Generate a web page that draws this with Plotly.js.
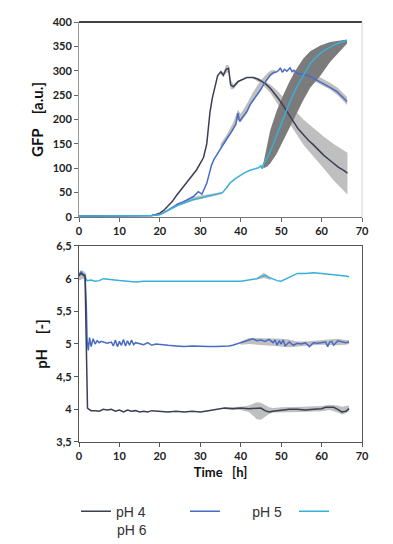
<!DOCTYPE html>
<html><head><meta charset="utf-8">
<script src="https://cdn.plot.ly/plotly-3.0.1.min.js"></script>
<style>html,body{margin:0;padding:0;background:#fff}#chart{width:393px;height:544px}</style>
</head><body><div id="chart"></div>
<script>
// ---------- GFP (top panel) ----------
const gfpTimePH4 = [0,5,10,15,18,19,20,21,22,23,24.2,25.5,26.7,28,29.1,30,30.8,31.6,32.4,33,33.7,34.3,35.1,35.7,36.4,37,37.5,38.2,39.4,40.5,41.5,43.1,44.2,45.2,46.3,47.3,48.3,49.3,50.4,51.4,53,54.2,55.5,56.8,58,59.2,60.5,61.8,63,64.2,65.4,66.4];
const gfpPH4 = [2,2,2,2,3,5,8,14,22,31,45,58,72,85,97,110,122,150,215,245,270,290,298,291,303,305,271,267,278,283,286,286,283,278,272,264,254,243,230,216,196,181,168,157,148,137,127,118,110,102,96,90];

const gfpTimePH5 = [0,5,10,15,18,19,20,21,22,23.3,24.5,25.8,27,28.3,29.5,30.4,31,31.6,32.2,32.8,33.5,34.5,35.5,36.6,37.5,38.2,38.8,39.3,39.7,40.5,41.5,42.3,43,44,45,45.6,46.5,47.3,48.1,48.9,49.4,49.8,50.3,50.8,51.4,51.8,52.2,52.7,53.2,53.9,55,56.4,57.5,58.8,60,61.3,62.5,63.8,65,66.3];
const gfpPH5 = [2,2,2,2,3,4,5,9,14,21,27,31,37,42,52,47,58,69,88,107,120,134,148,161,172,182,190,213,196,205,216,230,238,250,262,271,281,291,296,298,301,306,297,303,299,302,306,298,301,295,293,291,287,281,276,271,264,257,248,237];

const gfpTimePH6 = [0,5,10,15,18,19,20,21,22,23.3,24.5,25.8,27,28.3,30,31.6,33,34.7,35.5,36.5,37.4,38.6,39.9,41,42.3,43.4,44.4,45,45.3,45.6,46.5,47.3,48.1,48.9,49.8,50.6,51.4,52.2,53,53.9,54.7,55.5,56.4,57.2,58.4,59.7,60.9,62.1,63.4,64.6,66.3];
const gfpPH6 = [2,2,2,2,3,4,5,9,14,19,24,28,32,36,39,42,44,47,50,60,70,78,86,91,96,99,101,105,99,108,120,134,150,168,185,202,220,237,252,267,279,291,303,315,326,336,343,349,354,358,362];

// deviation bands (GFP)
const bandGfp4aTime = [35,35.7,36.4,37,37.5,38.2,39.4];
const bandGfp4aUp   = [300,296,312,312,282,272,281];
const bandGfp4aLo   = [294,286,296,296,262,262,275];
const bandGfp4Time = [43,45.2,47.3,49.3,51.4,53,55.5,58,60.5,63,65.4,66.4];
const bandGfp4Up   = [288,282,272,257,238,222,200,182,165,150,138,132];
const bandGfp4Lo   = [284,273,255,230,200,180,148,125,100,75,55,46];
const bandGfp5aTime = [35,36.6,38.2,39.3,40,41.5,43,44.5,46,47.3,48.5];
const bandGfp5aUp   = [150,170,195,220,212,232,255,275,290,300,302];
const bandGfp5aLo   = [140,158,178,200,195,212,238,258,276,288,296];
const bandGfp5bTime = [53,56,59,62,64,66.3];
const bandGfp5bUp   = [300,297,289,276,265,246];
const bandGfp5bLo   = [292,286,275,262,250,230];
const bandGfp6aTime = [24,26,28,30,32,34,35.5];
const bandGfp6aUp   = [27,34,40,44,46,49,52];
const bandGfp6aLo   = [22,27,33,37,40,44,47];
const bandGfp6Time = [45.6,46.5,47.3,48.9,50.6,52.2,53.9,55.5,57.2,59.7,62.1,64.6,66.3];
const bandGfp6Up   = [110,150,178,218,252,280,305,325,340,352,359,362,364];
const bandGfp6Lo   = [100,103,110,130,158,185,213,240,265,290,318,340,356];

// ---------- pH (bottom panel) ----------
const phTimePH4 = [0,0.5,1,1.5,1.8,2.1,2.5,3,4,5,6,7,8,9,10,11,12,13,14,15,16,17,18,20,22,24,26,28,30,32,34,36,38,40,42,44,45,46,47,48,50,52,54,56,58,60,61,62,63,64,65,66,66.8];
const phPH4 = [6.05,6.08,6.06,6.04,5.0,4.02,4.0,3.98,3.98,3.97,4.0,3.99,4.0,3.97,3.99,3.96,3.99,3.97,3.98,3.96,3.97,3.96,3.98,3.97,3.96,3.97,3.96,3.97,3.96,3.98,4.0,4.02,4.01,4.02,4.01,4.02,4.02,3.98,3.96,3.97,3.99,4.0,4.0,3.99,4.0,4.01,4.03,4.03,4.03,4.0,3.96,3.97,4.01];

const phTimePH5 = [0,0.5,1,1.5,1.8,2.0,2.3,2.6,3,3.5,4,4.5,5,5.5,6,7,8,8.5,9,9.5,10,10.5,11,11.5,12,12.5,13,13.5,14,15,16,17,18,19,20,22,24,26,28,30,32,34,36,37,38,39,40,41,42,43,44,45,46,47,48,48.5,49,49.5,50,50.5,51,52,53,54,55,56,57,58,59,60,61,61.5,62,62.5,63,64,65,66,66.8];
const phPH5 = [6.04,6.1,6.07,6.05,5.6,5.06,4.9,5.1,4.96,5.08,5.0,5.05,5.02,5.04,5.03,5.01,5.03,4.97,5.06,4.96,5.04,4.98,5.07,4.97,5.05,4.98,5.06,4.99,5.02,5.01,4.99,5.02,4.98,5.0,4.99,4.98,4.97,4.96,4.97,4.96,4.96,4.96,4.96,4.97,4.98,5.0,5.02,5.04,5.05,5.08,5.05,5.06,5.04,5.07,5.02,5.06,4.98,5.05,5.0,5.06,4.97,5.03,4.98,5.01,5.0,5.02,4.96,5.02,5.01,5.02,5.03,4.96,5.03,5.04,4.98,5.05,5.04,5.02,5.03];

const phTimePH6 = [0,0.5,1,1.5,2,3,4,5,6,8,10,12,14,16,18,20,25,30,35,38,40,42,44,45,46,47,48,49,50,51,52,53,54,56,58,60,62,64,66,66.8];
const phPH6 = [6.06,6.1,6.05,6.02,5.97,5.98,5.96,5.97,6.0,5.98,5.97,5.96,5.95,5.96,5.96,5.95,5.96,5.96,5.96,5.95,5.96,5.98,6.0,6.03,6.05,6.02,5.99,5.97,5.96,5.99,6.02,6.05,6.08,6.08,6.09,6.08,6.07,6.05,6.04,6.03];

const bandPh0Time = [0,0.5,1,1.5,1.8];
const bandPh0Up   = [6.1,6.13,6.12,6.1,6.08];
const bandPh0Lo   = [5.97,5.98,6.0,5.98,5.95];
const bandPh4Time = [36,40,42,43,44,45,46,47,48,50,55,60,62,64,65,66,66.8];
const bandPh4Up   = [4.03,4.04,4.06,4.09,4.11,4.10,4.06,4.03,4.02,4.03,4.04,4.05,4.07,4.06,4.04,4.05,4.06];
const bandPh4Lo   = [4.00,3.99,3.96,3.90,3.85,3.84,3.88,3.93,3.95,3.96,3.96,3.97,3.99,3.95,3.92,3.94,3.97];
const bandPh5Time = [40,42,44,46,48,50,52,54,56,58,60,62,64,66,66.8];
const bandPh5Up   = [5.04,5.09,5.09,5.09,5.09,5.08,5.07,5.04,5.04,5.05,5.06,5.08,5.08,5.06,5.06];
const bandPh5Lo   = [4.99,5.0,5.0,4.99,4.97,4.96,4.95,4.97,4.97,4.98,4.99,4.99,4.98,4.99,5.0];
const bandPh6Time = [44,45,45.7,46.5,47.5];
const bandPh6Up   = [6.01,6.06,6.09,6.06,6.01];
const bandPh6Lo   = [5.99,6.0,6.01,6.0,5.98];

const seriesNames = ['pH 4','pH 5','pH 6'];
const xTicks = [0,10,20,30,40,50,60,70];

// ---------- styling ----------
const C4 = '#3b3f52', C5 = '#4a6bc4', C6 = '#3aafda';
const LIGHT = '#bfbfbf', DARK = '#7b7b7b';

function band(t, up, lo, color, xa, ya) {
  return {
    x: t.concat(t.slice().reverse()),
    y: up.concat(lo.slice().reverse()),
    xaxis: xa, yaxis: ya,
    type: 'scatter', mode: 'lines', fill: 'toself',
    fillcolor: color, line: {width: 0, color: color},
    hoverinfo: 'skip', showlegend: false
  };
}
function line(t, v, color, xa, ya, name, show) {
  return {
    x: t, y: v, xaxis: xa, yaxis: ya, type: 'scatter', mode: 'lines',
    line: {color: color, width: 1.5}, name: name, showlegend: show,
    legendgroup: name
  };
}

const data = [
  band(bandGfp6aTime, bandGfp6aUp, bandGfp6aLo, LIGHT, 'x', 'y'),
  band(bandGfp4aTime, bandGfp4aUp, bandGfp4aLo, LIGHT, 'x', 'y'),
  band(bandGfp4Time, bandGfp4Up, bandGfp4Lo, LIGHT, 'x', 'y'),
  band(bandGfp5aTime, bandGfp5aUp, bandGfp5aLo, LIGHT, 'x', 'y'),
  band(bandGfp5bTime, bandGfp5bUp, bandGfp5bLo, LIGHT, 'x', 'y'),
  band(bandGfp6Time, bandGfp6Up, bandGfp6Lo, DARK, 'x', 'y'),
  line(gfpTimePH4, gfpPH4, C4, 'x', 'y', seriesNames[0], true),
  line(gfpTimePH5, gfpPH5, C5, 'x', 'y', '\u00a0\u00a0\u00a0\u00a0\u00a0\u00a0\u00a0' + seriesNames[1], true),
  line(gfpTimePH6, gfpPH6, C6, 'x', 'y', '\u00a0', true),
  band(bandPh0Time, bandPh0Up, bandPh0Lo, LIGHT, 'x2', 'y2'),
  band(bandPh4Time, bandPh4Up, bandPh4Lo, LIGHT, 'x2', 'y2'),
  band(bandPh5Time, bandPh5Up, bandPh5Lo, LIGHT, 'x2', 'y2'),
  band(bandPh6Time, bandPh6Up, bandPh6Lo, LIGHT, 'x2', 'y2'),
  line(phTimePH6, phPH6, C6, 'x2', 'y2', 'pH6b', false),
  line(phTimePH5, phPH5, C5, 'x2', 'y2', 'pH5b', false),
  line(phTimePH4, phPH4, C4, 'x2', 'y2', 'pH4b', false)
];

const tickFont = {family: 'Lato, "Liberation Sans", sans-serif', size: 11, color: '#222', weight: 'bold'};
const titleFont = {family: 'Lato, "Liberation Sans", sans-serif', size: 14, color: '#111', weight: 'bold'};

const layout = {
  width: 393, height: 544,
  margin: {l: 79, r: 31, t: 22, b: 102},
  paper_bgcolor: '#fff', plot_bgcolor: '#fff',
  separators: ', ',
  showlegend: true,
  xaxis: {domain: [0,1], anchor: 'y', range: [0,70], tickvals: xTicks, ticks: 'outside', ticklen: 4, tickcolor: '#666',
          showline: true, linecolor: '#777', linewidth: 1, showgrid: false, zeroline: false, tickfont: tickFont},
  yaxis: {domain: [0.5357,1], anchor: 'x', range: [0,400], dtick: 50, ticks: 'outside', ticklen: 4, tickcolor: '#666',
          showline: true, linecolor: '#999', linewidth: 1, showgrid: false, zeroline: false, tickfont: tickFont,
          title: {text: 'GFP\u00a0\u00a0\u00a0 [a.u.]', font: {family: titleFont.family, size: 15, color: '#111', weight: 'bold'}, standoff: 5}},
  xaxis2: {domain: [0,1], anchor: 'y2', range: [0,70], tickvals: xTicks, ticks: 'outside', ticklen: 4, tickcolor: '#555',
          showline: true, mirror: true, linecolor: '#555', linewidth: 1.2, showgrid: false, zeroline: false, tickfont: tickFont,
          title: {text: 'Time\u00a0\u00a0 [h]', font: {family: titleFont.family, size: 13, color: '#111', weight: 'bold'}, standoff: 6}},
  yaxis2: {domain: [0,0.4667], anchor: 'x2', range: [3.5,6.5], dtick: 0.5, ticks: 'outside', ticklen: 4, tickcolor: '#555',
          showline: true, mirror: true, linecolor: '#555', linewidth: 1.2, showgrid: false, zeroline: false, tickfont: tickFont,
          title: {text: 'pH\u00a0\u00a0\u00a0 [-]', font: {family: titleFont.family, size: 15, color: '#111', weight: 'bold'}, standoff: 5}},
  shapes: [
    {type: 'line', xref: 'x domain', yref: 'y domain', x0: 0, x1: 1, y0: 1, y1: 1, line: {color: '#404040', width: 2}},
    {type: 'line', xref: 'x domain', yref: 'y domain', x0: 1, x1: 1, y0: 0, y1: 1, line: {color: '#d4d4d4', width: 1}}
  ],
  legend: {orientation: 'h', x: -0.007, xanchor: 'left', y: -0.128, yanchor: 'top',
           indentation: 10, entrywidth: 54, entrywidthmode: 'pixels', traceorder: 'normal',
           font: {family: '"Liberation Sans", Arial, sans-serif', size: 14, color: '#333'},
           bgcolor: 'rgba(0,0,0,0)', borderwidth: 0},
  annotations: [
    {xref: 'paper', yref: 'paper', x: 0.127, y: -0.2095, xanchor: 'left', yanchor: 'middle', showarrow: false,
     text: seriesNames[2], font: {family: '"Liberation Sans", Arial, sans-serif', size: 14, color: '#333'}}
  ]
};

Plotly.newPlot('chart', data, layout, {displayModeBar: false, staticPlot: true});
</script></body></html>
